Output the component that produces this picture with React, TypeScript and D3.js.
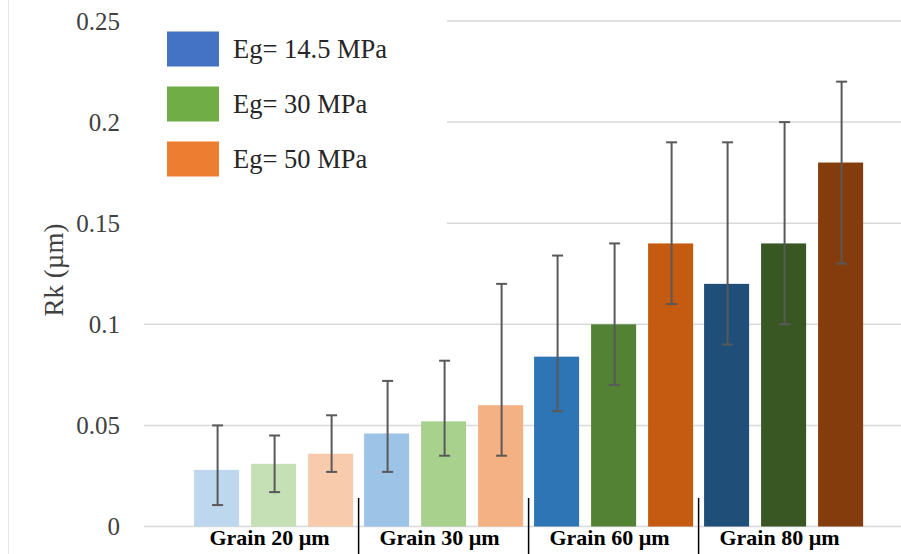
import React from "react";
import * as d3 from "d3";

const groups = ["Grain 20 µm", "Grain 30 µm", "Grain 60 µm", "Grain 80 µm"];
const seriesNames = ["Eg= 14.5 MPa", "Eg= 30 MPa", "Eg= 50 MPa"];
const rk14 = [0.028, 0.046, 0.084, 0.12];
const rk30 = [0.031, 0.052, 0.1, 0.14];
const rk50 = [0.036, 0.06, 0.14, 0.18];
const errLow14 = [0.0106, 0.027, 0.057, 0.09];
const errHigh14 = [0.05, 0.072, 0.134, 0.19];
const errLow30 = [0.017, 0.035, 0.07, 0.1];
const errHigh30 = [0.045, 0.082, 0.14, 0.2];
const errLow50 = [0.027, 0.035, 0.11, 0.13];
const errHigh50 = [0.055, 0.12, 0.19, 0.22];
const yTicks = [0, 0.05, 0.1, 0.15, 0.2, 0.25];
const yTickLabels = ["0", "0.05", "0.1", "0.15", "0.2", "0.25"];

const values = [rk14, rk30, rk50];
const lows = [errLow14, errLow30, errLow50];
const highs = [errHigh14, errHigh30, errHigh50];

const barColors = [
  ["#BDD7EE", "#9DC3E6", "#2E75B6", "#1F4E79"],
  ["#C5E0B4", "#A9D18E", "#548235", "#385723"],
  ["#F8CBAD", "#F4B183", "#C55A11", "#843C0C"],
];
const legendColors = ["#4472C4", "#70AD47", "#ED7D31"];

const FONT = '"Liberation Serif", "DejaVu Serif", serif';
const tf: React.CSSProperties = { fontFamily: FONT };

export default function App() {
  const W = 901;
  const H = 554;
  const y = d3.scaleLinear().domain([0, 0.25]).range([526.5, 21]);
  const x0 = d3.scaleBand<string>().domain(groups).range([188.6, 868.6]).padding(0);
  const x1 = d3
    .scaleBand<string>()
    .domain(seriesNames)
    .range([0, x0.bandwidth()])
    .paddingInner(0.21)
    .paddingOuter(0.096);

  const gridX1 = 144;
  const gridX2 = W;
  const capW = 9;

  return (
    <svg
      width={W}
      height={H}
      style={{ position: "absolute", left: 0, top: 0, background: "#fff" }}
    >
      <rect x={0} y={0} width={W} height={H} fill="#fff" />
      <line x1={8.5} x2={8.5} y1={0} y2={H} stroke="#e6e6e6" strokeWidth={1} />
      {yTicks.map((t) => (
        <line
          key={"g" + t}
          x1={gridX1}
          x2={gridX2}
          y1={y(t)}
          y2={y(t)}
          stroke="#d9d9d9"
          strokeWidth={1.5}
        />
      ))}
      {yTicks.map((t, i) => (
        <text
          key={"t" + t}
          x={120}
          y={y(t)}
          dy="0.35em"
          textAnchor="end"
          fontSize={25}
          fill="#404040"
          style={tf}
        >
          {yTickLabels[i]}
        </text>
      ))}
      <text
        transform={`translate(63,270) rotate(-90)`}
        textAnchor="middle"
        fontSize={27}
        fill="#404040"
        style={tf}
      >
        Rk (µm)
      </text>
      {seriesNames.map((s, si) =>
        groups.map((g, gi) => {
          const bx = (x0(g) as number) + (x1(s) as number);
          const v = values[si][gi];
          return (
            <rect
              key={`b${si}-${gi}`}
              x={bx}
              y={y(v)}
              width={x1.bandwidth()}
              height={y(0) - y(v)}
              fill={barColors[si][gi]}
            />
          );
        })
      )}
      {seriesNames.map((s, si) =>
        groups.map((g, gi) => {
          const cx = (x0(g) as number) + (x1(s) as number) + x1.bandwidth() / 2 + 1;
          const yl = y(lows[si][gi]);
          const yh = y(highs[si][gi]);
          return (
            <g key={`e${si}-${gi}`} stroke="#595959" strokeWidth={2}>
              <line x1={cx} x2={cx} y1={yl} y2={yh} />
              <line x1={cx - capW / 2 - 1} x2={cx + capW / 2 + 1} y1={yl} y2={yl} />
              <line x1={cx - capW / 2 - 1} x2={cx + capW / 2 + 1} y1={yh} y2={yh} />
            </g>
          );
        })
      )}
      {groups.slice(1).map((g) => (
        <line
          key={"s" + g}
          x1={x0(g) as number}
          x2={x0(g) as number}
          y1={498}
          y2={H}
          stroke="#000"
          strokeWidth={1.5}
        />
      ))}
      {groups.map((g) => (
        <text
          key={"c" + g}
          x={(x0(g) as number) + x0.bandwidth() / 2 - 4}
          y={545}
          textAnchor="middle"
          fontSize={22}
          fontWeight="bold"
          fill="#000"
          style={tf}
        >
          {g}
        </text>
      ))}
      <rect x={140} y={12} width={307} height={220} fill="#fff" />
      {seriesNames.map((s, i) => {
        const cy = 49 + i * 55;
        return (
          <g key={"l" + s}>
            <rect x={167} y={cy - 17.5} width={52} height={35} fill={legendColors[i]} />
            <text x={233} y={cy} dy="0.33em" fontSize={26.5} fill="#262626" style={tf}>
              {s}
            </text>
          </g>
        );
      })}
    </svg>
  );
}
